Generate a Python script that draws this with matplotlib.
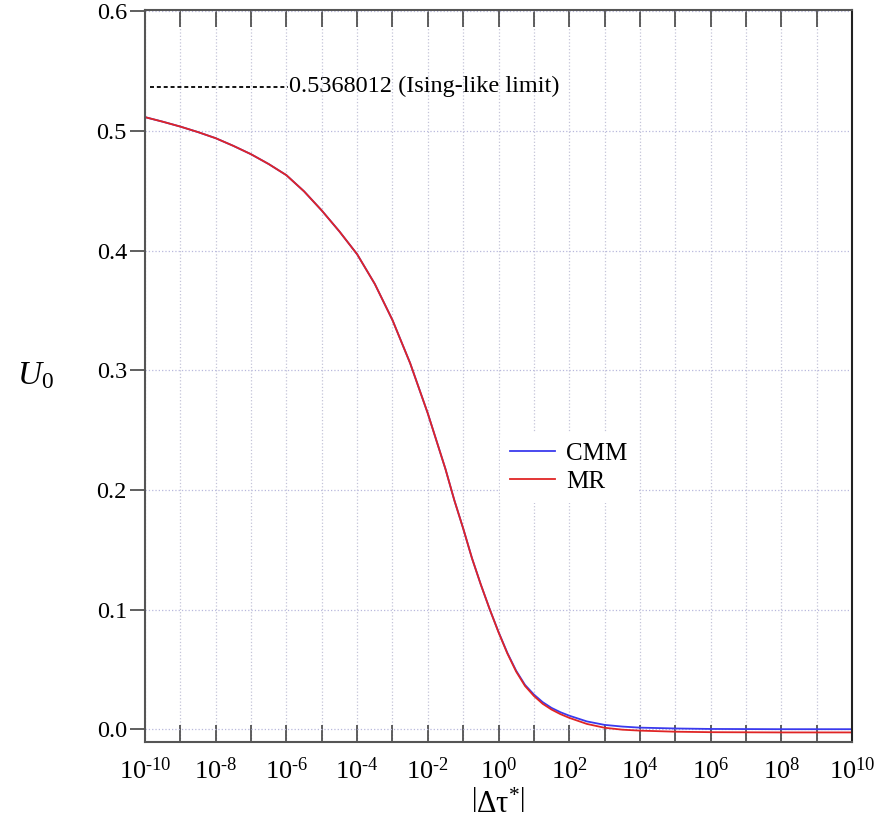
import numpy as np
import matplotlib.pyplot as plt
from matplotlib.ticker import FixedLocator, FuncFormatter

plt.rcParams['font.family'] = ['Liberation Serif', 'DejaVu Serif']
plt.rcParams['mathtext.fontset'] = 'custom'
plt.rcParams['mathtext.rm'] = 'Liberation Serif'
plt.rcParams['mathtext.it'] = 'Liberation Serif:italic'
plt.rcParams['mathtext.bf'] = 'Liberation Serif:bold'

# log10 |dtau*| and U0
log_tau = [-10, -9.5, -9, -8.5, -8, -7.5, -7, -6.5, -6, -5.5, -5, -4.5, -4, -3.5, -3,
           -2.5, -2, -1.5, -1.25, -1, -0.75, -0.5, -0.25, 0, 0.25, 0.5, 0.75, 1, 1.25,
           1.5, 1.75, 2, 2.5, 3, 3.5, 4, 5, 6, 7, 8, 9, 10]
u_cmm = [0.5115, 0.5077, 0.5036, 0.4990, 0.4939, 0.4875, 0.4805, 0.4723, 0.4630, 0.4495,
         0.4335, 0.4160, 0.3970, 0.3722, 0.3420, 0.3060, 0.2640, 0.2175, 0.1915, 0.1680,
         0.1430, 0.1210, 0.1005, 0.0815, 0.0640, 0.0490, 0.0372, 0.0292, 0.0228, 0.0180,
         0.0144, 0.0115, 0.0067, 0.0038, 0.0024, 0.0015, 0.0008, 0.0004, 0.0003, 0.0002,
         0.0002, 0.0002]
u_mr = [0.5115, 0.5077, 0.5036, 0.4990, 0.4939, 0.4875, 0.4805, 0.4723, 0.4630, 0.4495,
        0.4335, 0.4160, 0.3970, 0.3722, 0.3420, 0.3060, 0.2640, 0.2175, 0.1915, 0.1680,
        0.1430, 0.1210, 0.1005, 0.0812, 0.0635, 0.0483, 0.0363, 0.0280, 0.0214, 0.0166,
        0.0128, 0.0097, 0.0046, 0.0014, -0.0002, -0.0010, -0.0019, -0.0023, -0.0024,
        -0.0025, -0.0025, -0.0025]
ising_limit = 0.5368012

tau = 10.0 ** np.array(log_tau)

fig = plt.figure(figsize=(8.77, 8.36), dpi=100)
ax = fig.add_axes([145/877, 94/836, 707/877, 732/836])

ax.plot(tau, u_cmm, color='#3a3aee', lw=1.3, label='CMM')
ax.plot(tau, u_mr, color='#e02525', lw=1.3, label='MR')

# Ising-like limit marker
ax.plot([1.4e-10, 1.1e-6], [ising_limit, ising_limit], color='black', lw=1.3,
        ls=(0, (2.2, 1.6)))
ax.text(1.15e-6, ising_limit, '0.5368012 (Ising-like limit)', fontsize=17.5,
        va='center', ha='left')

ax.set_xscale('log')
ax.set_xlim(1e-10, 1e10)
ax.set_ylim(-0.0105, 0.601)


def exp_label(v, p):
    k = int(round(np.log10(v)))
    if k < 0:
        return r'$10^{\text{-}%d}$' % (-k)
    return r'$10^{%d}$' % k


even = [10.0 ** k for k in range(-10, 11, 2)]
odd = [10.0 ** k for k in range(-9, 10, 2)]
ax.xaxis.set_major_locator(FixedLocator(even))
ax.xaxis.set_minor_locator(FixedLocator(odd))
ax.xaxis.set_major_formatter(FuncFormatter(exp_label))
ax.xaxis.set_minor_formatter(FuncFormatter(lambda v, p: ''))
ax.tick_params(axis='x', which='both', direction='in', top=True, length=12, width=1.2,
               color='#444444', labelsize=19, pad=11)

ax.set_yticks([0.0, 0.1, 0.2, 0.3, 0.4, 0.5, 0.6])
ax.yaxis.set_major_formatter(FuncFormatter(lambda v, p: '%.1f' % v))
ax.tick_params(axis='y', direction='out', length=11, width=1.2, color='#444444',
               labelsize=17.5, pad=2)

ax.grid(True, which='both', axis='x', ls=':', lw=0.9, color='#c4c4d8')
ax.grid(True, which='major', axis='y', ls=':', lw=0.9, color='#b8b8dc')

for s in ['left', 'bottom', 'top']:
    ax.spines[s].set_color('#555555')
    ax.spines[s].set_linewidth(1.5)
ax.spines['right'].set_color('#222222')
ax.spines['right'].set_linewidth(1.5)

ax.set_xlabel(r'$\left|\mathrm{\Delta\tau}^{*}\right|$', fontsize=22, va='center')
ax.xaxis.set_label_coords(0.5, -0.087)
ax.set_ylabel(r'$U_0$', fontsize=24, rotation=0, labelpad=44, va='center')

leg = ax.legend(loc='center left', bbox_to_anchor=(0.502, 0.375), fontsize=18,
                frameon=True, edgecolor='none', facecolor='white', framealpha=1,
                handlelength=1.8, handletextpad=0.45, borderaxespad=0, labelspacing=0.2)

fig.savefig('out.png', dpi=100)
